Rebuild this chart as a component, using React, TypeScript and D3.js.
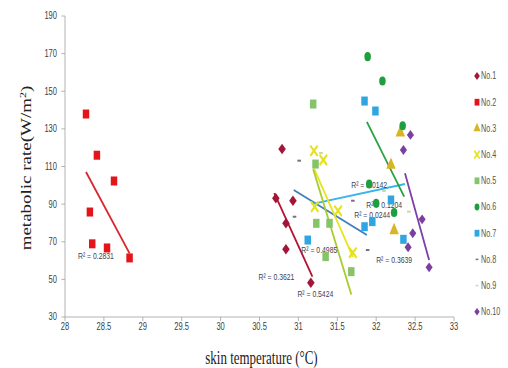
import React from "react";
import * as d3 from "d3";

// the reference is squeezed horizontally, so everything is drawn wide and scaled by K
const K = 0.72;

const seriesNames = ["No.1", "No.2", "No.3", "No.4", "No.5", "No.6", "No.7", "No.8", "No.9", "No.10"];

const no1 = [[30.79, 119.3], [30.71, 93.1], [30.93, 91.8], [30.84, 79.8], [30.84, 66.0], [31.16, 48.2]];
const no2 = [[28.27, 137.9], [28.41, 116.0], [28.63, 102.3], [28.32, 85.8], [28.35, 68.9], [28.54, 66.7], [28.83, 61.4]];
const no3 = [[32.31, 128.0], [32.19, 110.8], [32.23, 76.0]];
const no4 = [[31.2, 118.4], [31.32, 113.5], [31.21, 88.6], [31.51, 86.5], [31.7, 64.2]];
const no5 = [[31.19, 143.2], [31.22, 111.3], [31.23, 79.8], [31.4, 79.8], [31.35, 62.1], [31.68, 54.1]];
const no6 = [[31.89, 168.4], [32.08, 155.5], [32.34, 131.7], [31.91, 100.7], [32.0, 90.4], [32.23, 85.6]];
const no7 = [[31.85, 144.8], [31.99, 139.5], [32.19, 92.2], [31.85, 78.0], [31.95, 80.7], [31.12, 70.9], [32.35, 71.3]];
const no8 = [[31.01, 113.1], [30.95, 83.3], [31.7, 91.8], [31.89, 65.6]];
const no9 = [[31.29, 117.2], [32.1, 97.0], [32.42, 86.0]];
const no10 = [[32.44, 126.8], [32.35, 118.8], [32.59, 81.9], [32.47, 74.5], [32.41, 67.1], [32.68, 56.4]];
const allSeries = [no1, no2, no3, no4, no5, no6, no7, no8, no9, no10];

// linear trend lines: [series, x0, y0, x1, y1]
const trends = [
  [1, 28.27, 107.1, 28.83, 63.8],
  [0, 30.69, 95.9, 31.18, 51.4],
  [7, 30.94, 97.5, 31.88, 73.6],
  [6, 31.17, 90.0, 32.37, 100.7],
  [3, 31.2, 109.0, 31.7, 62.0],
  [4, 31.19, 108.5, 31.68, 42.0],
  [5, 31.88, 133.7, 32.36, 94.0],
  [9, 32.37, 106.4, 32.68, 60.3],
];

const r2Text = ["0.2831", "0.3621", "0.5424", "0.4985", "0.0142", "0.1204", "0.0244", "0.3639"];
const r2AtX = [28.167, 30.487, 30.987, 31.038, 31.679, 31.872, 31.718, 32.0];
const r2AtY = [60.8, 49.7, 40.6, 64.0, 98.6, 87.9, 82.6, 58.7];

const xTicks = d3.range(28, 33.001, 0.5);
const yTicks = d3.range(30, 191, 20);

const markerColor = ["#a0173a", "#e3151b", "#d9b526", "#e6e21a", "#86c46a", "#1f9e3f", "#2fa6e0", "#7a7080", "#c8d8a0", "#7a3fa0"];
const lineColor = ["#b3152e", "#d9262e", "#d9b526", "#e8e41e", "#a8cc2e", "#2aa044", "#3ab3ea", "#3f7fbf", "#c8d8a0", "#7d40a8"];

const shapes = [
  d3.symbolDiamond2, d3.symbolSquare, d3.symbolTriangle, d3.symbolTimes, d3.symbolSquare,
  d3.symbolCircle, d3.symbolSquare, null, null, d3.symbolDiamond2,
];
const sizes = [70, 81, 75, 70, 81, 64, 81, 0, 0, 62];

function Marker({ i, cx, cy }: { i: number; cx: number; cy: number }) {
  const t = shapes[i];
  if (!t) {
    return <rect x={cx - 2.5} y={cy - 1} width={5} height={2} fill={markerColor[i]} />;
  }
  const d = d3.symbol().type(t).size(sizes[i])() as string;
  if (t === d3.symbolTimes) {
    return <path d={d} transform={`translate(${cx},${cy})`} fill="none" stroke={markerColor[i]} strokeWidth={2.6} />;
  }
  return <path d={d} transform={`translate(${cx},${cy})`} fill={markerColor[i]} />;
}

export default function App() {
  const x = d3.scaleLinear().domain([28, 33]).range([65 / K, 454 / K]);
  const y = d3.scaleLinear().domain([30, 190]).range([317, 16]);
  const axisColor = "#a6a6a6";
  const sans = "'Liberation Sans', Arial, sans-serif";
  const serif = "'Liberation Serif', 'Times New Roman', serif";

  return (
    <svg width={508} height={368} style={{ position: "absolute", left: 0, top: 0, background: "#fff" }}>
      <g transform={`scale(${K},1)`}>
        {/* axes */}
        <line x1={x(28)} x2={x(28)} y1={y(190)} y2={y(30)} stroke={axisColor} />
        <line x1={x(28)} x2={x(33)} y1={y(30)} y2={y(30)} stroke={axisColor} />
        {yTicks.map((t) => (
          <g key={"y" + t}>
            <line x1={x(28) - 5} x2={x(28)} y1={y(t)} y2={y(t)} stroke={axisColor} />
            <text x={57 / K} y={y(t) + 3.5} textAnchor="end" fontFamily={sans} fontSize={10.5} fill="#404040">
              {t}
            </text>
          </g>
        ))}
        {xTicks.map((t) => (
          <g key={"x" + t}>
            <line x1={x(t)} x2={x(t)} y1={y(30)} y2={y(30) + 4} stroke={axisColor} />
            <text x={x(t)} y={330} textAnchor="middle" fontFamily={sans} fontSize={10.5} fill="#404040">
              {d3.format("")(t)}
            </text>
          </g>
        ))}

        {/* trend lines */}
        {trends.map(([s, x0, y0, x1, y1], k) => (
          <line key={"t" + k} x1={x(x0)} y1={y(y0)} x2={x(x1)} y2={y(y1)}
            stroke={lineColor[s]} strokeWidth={1.8} vectorEffect="non-scaling-stroke" />
        ))}

        {/* R² labels */}
        {r2Text.map((t, k) => (
          <text key={"r" + k} x={x(r2AtX[k])} y={y(r2AtY[k])} fontFamily={sans} fontSize={9.5} fill="#404055">
            R² = {t}
          </text>
        ))}

        {/* points */}
        {allSeries.map((pts, i) =>
          pts.map((p, j) => <Marker key={i + "-" + j} i={i} cx={x(p[0])} cy={y(p[1])} />)
        )}

        {/* legend */}
        {seriesNames.map((n, i) => {
          const ly = 76 + i * 26.2;
          return (
            <g key={n}>
              <g transform={`translate(${477 / K},${ly}) scale(0.75)`}>
                <Marker i={i} cx={0} cy={0} />
              </g>
              <text x={481 / K} y={ly + 3.5} fontFamily={sans} fontSize={10} fill="#555">
                {n}
              </text>
            </g>
          );
        })}

        {/* axis titles */}
        <text transform={`translate(${31 / K},168) rotate(-90)`} textAnchor="middle" fontFamily={serif} fontSize={19} fill="#222">
          metabolic rate(W/m<tspan dy={-7} fontSize={12}>2</tspan><tspan dy={7}>)</tspan>
        </text>
        <text x={261.5 / K} y={364} textAnchor="middle" fontFamily={serif} fontSize={18} fill="#222">
          skin temperature (°C)
        </text>
      </g>
    </svg>
  );
}
